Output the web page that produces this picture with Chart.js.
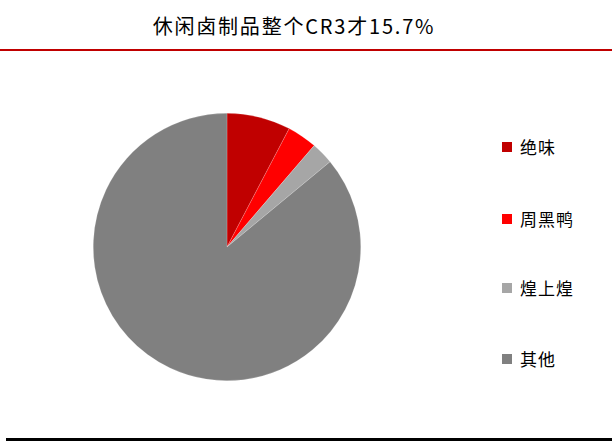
<!DOCTYPE html>
<html>
<head>
<meta charset="utf-8">
<script src="https://cdn.jsdelivr.net/npm/chart.js@4"></script>
<style>
  html, body { margin: 0; padding: 0; background: #fff; }
  #wrap { position: relative; width: 612px; height: 444px; overflow: hidden; }
  #titulo {
    position: absolute; left: 0; top: 11px; width: 588px; text-align: center;
    font-family: "Noto Sans CJK SC", sans-serif; font-size: 20px; font-weight: 400;
    letter-spacing: 1.8px; color: #000;
  }
  #lineaRoja { position: absolute; left: 0; top: 49px; width: 612px; height: 2px; background: #C00000; }
  #lineaNegra { position: absolute; left: 6px; top: 438px; width: 606px; height: 3px; background: #000; }
  #caja { position: absolute; left: 91px; top: 111px; width: 272px; height: 272px; }
  #leyenda { position: absolute; left: 502px; top: 0; }
  .item { position: absolute; left: 0; white-space: nowrap;
    font-family: "Noto Sans CJK SC", serif; font-size: 17px; color: #000; }
  .item span.cuadro { position: absolute; left: 0; top: 7px; width: 10px; height: 10px; }
  .item span.txt { position: absolute; left: 18px; top: 0; line-height: 24px; letter-spacing: 1px; }
</style>
</head>
<body>
<div id="wrap">
  <div id="titulo">休闲卤制品整个CR3才15.7%</div>
  <div id="lineaRoja"></div>
  <div id="caja"><canvas id="grafica"></canvas></div>
  <div id="leyenda"></div>
  <div id="lineaNegra"></div>
</div>
<script>
// Datos (% de participación)
const categorias = ["绝味", "周黑鸭", "煌上煌", "其他"];
const valores = [7.7, 3.6, 2.7, 86.0];
const colores = ["#C00000", "#FF0000", "#A6A6A6", "#808080"];

const canvas = document.getElementById("grafica");

const grafica = new Chart(canvas, {
    type: 'pie',
    data: {
        labels: categorias,
        datasets: [{
            data: valores,
            backgroundColor: colores,
            borderColor: 'rgba(255,255,255,0.35)',
            borderWidth: 0.5
        }]
    },
    options: {
        responsive: true,
        maintainAspectRatio: false,
        animation: false,
        layout: { padding: 2 },
        plugins: {
            legend: { display: false },
            tooltip: { enabled: false }
        }
    }
});

// Leyenda en HTML (posiciones de cada fila)
const leyenda = document.getElementById("leyenda");
const filasY = [135, 207, 276, 347];
leyenda.innerHTML = categorias.map((c, i) => `
    <div class="item" style="top:${filasY[i]}px">
        <span class="cuadro" style="background:${colores[i]}"></span>
        <span class="txt">${c}</span>
    </div>
`).join("");
</script>
</body>
</html>
